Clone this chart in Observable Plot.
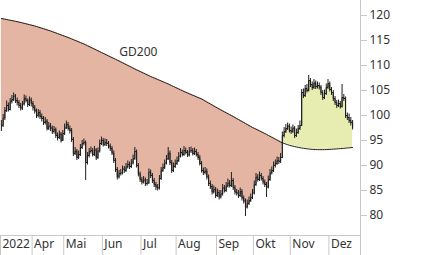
<!DOCTYPE html>
<html>
<head>
<meta charset="utf-8">
<script src="https://cdn.jsdelivr.net/npm/d3@7"></script>
<script src="https://cdn.jsdelivr.net/npm/@observablehq/plot@0.6"></script>
<style>
  html, body { margin: 0; padding: 0; background: #fff; }
  #chart { width: 426px; height: 255px; overflow: hidden; }
</style>
</head>
<body>
<div id="chart"></div>
<script>
// Daily closes (trading-day index 0 = start of the window, early March 2022)
const close = [
98.0, 99.5, 101.0, 102.0, 101.2, 102.8, 103.2, 103.9, 103.0, 102.6,
102.0, 101.5, 102.3, 103.4, 103.0, 102.2, 103.1, 102.4, 101.6, 100.9,
100.0, 100.6, 99.8, 99.4, 98.6, 98.9, 97.4, 97.9, 97.5, 96.8,
97.2, 96.0, 95.6, 96.3, 95.0, 96.4, 97.5, 98.2, 97.4, 97.0,
95.2, 92.4, 92.9, 91.6, 92.2, 93.6, 94.4, 94.6, 90.6, 92.0,
92.8, 93.0, 92.2, 93.1, 91.6, 92.9, 94.4, 95.0, 94.2, 94.6,
94.4, 93.9, 93.4, 92.5, 91.0, 89.2, 87.7, 88.4, 88.5, 89.3,
89.0, 89.7, 90.2, 89.8, 90.5, 91.4, 92.8, 90.0, 88.3, 87.2,
86.7, 87.1, 86.4, 86.5, 88.7, 88.0, 87.0, 86.2, 85.7, 85.5,
87.4, 89.0, 89.6, 90.5, 91.3, 92.5, 90.6, 89.0, 89.8, 90.4,
91.0, 91.9, 92.6, 92.2, 93.0, 92.6, 92.1, 92.9, 93.0, 92.4,
92.8, 92.2, 91.6, 90.4, 89.0, 88.6, 88.9, 87.7, 86.4, 85.8,
84.7, 85.2, 84.0, 84.6, 83.7, 84.3, 85.5, 85.0, 85.9, 86.5,
86.0, 87.0, 85.6, 84.7, 84.5, 84.0, 84.8, 83.5, 82.9, 81.7,
82.4, 83.0, 83.6, 84.5, 86.2, 87.7, 87.2, 88.0, 87.4, 86.7,
86.2, 85.7, 87.2, 88.5, 89.0, 90.0, 90.4, 91.0, 90.8, 91.6,
96.0, 96.8, 97.4, 97.9, 97.0, 96.8, 97.5, 96.0, 96.6, 97.4,
98.0, 104.6, 104.0, 105.4, 105.0, 107.0, 106.2, 105.6, 106.5, 105.8,
106.0, 105.7, 104.6, 103.6, 104.4, 105.6, 106.4, 105.2, 104.6, 103.4,
102.6, 102.0, 102.4, 101.8, 103.6, 103.4, 100.0, 99.6, 99.0, 98.6,
97.6];

const high = [
99.0, 100.2, 101.6, 102.9, 102.5, 103.4, 104.0, 104.5, 104.2, 103.5,
103.0, 102.4, 102.8, 104.1, 103.9, 103.3, 103.7, 103.5, 102.8, 102.0,
101.3, 101.2, 101.0, 100.3, 99.8, 99.6, 99.2, 98.6, 98.4, 97.9,
97.8, 97.5, 96.5, 96.9, 96.6, 97.0, 98.3, 98.9, 98.6, 97.9,
97.4, 95.6, 93.6, 93.2, 92.9, 94.2, 95.0, 95.3, 94.9, 92.6,
93.4, 93.7, 93.4, 93.8, 93.4, 93.5, 95.1, 95.7, 95.4, 95.3,
95.2, 94.8, 94.3, 93.8, 92.9, 91.4, 89.6, 89.0, 89.2, 89.9,
89.8, 90.4, 90.9, 90.7, 91.2, 92.1, 93.6, 93.1, 90.4, 88.7,
87.6, 87.8, 87.5, 87.2, 89.3, 89.1, 88.4, 87.4, 86.6, 86.2,
88.0, 89.6, 90.3, 91.1, 92.0, 93.6, 92.9, 91.0, 90.5, 91.1,
91.7, 92.6, 93.4, 93.1, 93.8, 93.5, 93.0, 93.6, 93.7, 93.4,
93.5, 93.2, 92.6, 92.0, 90.8, 89.5, 89.6, 89.3, 88.1, 86.9,
86.2, 85.9, 85.6, 85.3, 85.0, 85.0, 86.2, 86.0, 86.6, 87.3,
87.0, 88.6, 87.4, 86.0, 85.2, 85.0, 85.5, 85.2, 83.9, 83.3,
83.1, 83.7, 84.3, 85.2, 86.9, 88.4, 88.2, 88.7, 88.4, 87.8,
87.1, 86.6, 87.9, 89.2, 89.7, 90.7, 91.1, 91.7, 91.6, 92.4,
96.7, 97.6, 98.2, 98.5, 98.3, 97.7, 98.1, 97.8, 97.3, 98.0,
98.9, 105.2, 105.3, 106.0, 106.2, 108.0, 107.4, 106.7, 107.2, 106.9,
106.7, 106.5, 106.0, 105.0, 105.1, 106.3, 107.2, 106.7, 105.6, 105.0,
103.8, 103.0, 103.1, 102.8, 106.2, 104.2, 103.7, 100.5, 100.3, 99.6,
99.0];

const low = [
96.8, 97.6, 99.0, 100.6, 100.7, 100.9, 102.3, 102.8, 102.4, 101.9,
101.4, 100.9, 101.0, 101.9, 102.5, 101.6, 101.8, 101.7, 100.9, 100.3,
99.4, 99.5, 99.2, 98.7, 98.0, 98.1, 96.9, 97.0, 96.8, 96.2,
96.3, 95.4, 94.9, 95.2, 94.5, 94.8, 96.0, 97.2, 96.9, 96.3,
94.6, 91.8, 92.0, 91.0, 91.2, 91.8, 93.2, 93.9, 87.0, 90.1,
91.5, 92.3, 91.7, 91.8, 91.0, 91.2, 92.5, 94.0, 93.7, 93.8,
93.8, 93.3, 92.8, 92.0, 90.4, 88.6, 87.1, 87.3, 87.9, 88.1,
88.4, 88.6, 89.3, 89.2, 89.4, 90.1, 91.0, 89.5, 87.7, 86.6,
86.1, 86.3, 85.8, 85.9, 86.2, 87.4, 86.4, 85.6, 85.0, 84.9,
85.1, 87.0, 88.6, 89.2, 90.1, 91.0, 90.0, 88.4, 88.6, 89.4,
90.0, 90.6, 91.5, 91.7, 91.8, 92.1, 91.6, 91.7, 92.4, 91.9,
92.0, 91.7, 91.0, 89.9, 88.5, 88.0, 88.1, 87.1, 85.8, 85.2,
84.1, 84.3, 83.4, 83.6, 83.1, 83.3, 83.9, 84.5, 84.6, 85.5,
85.5, 85.6, 85.0, 84.1, 83.9, 83.4, 83.6, 82.9, 82.3, 79.8,
81.3, 82.0, 82.6, 83.2, 84.1, 85.8, 86.7, 86.8, 86.9, 86.1,
85.6, 83.6, 85.3, 86.8, 88.1, 88.6, 89.5, 90.0, 90.2, 90.4,
91.4, 95.5, 96.4, 97.0, 96.5, 96.2, 96.4, 95.4, 95.6, 96.2,
97.0, 97.8, 103.4, 103.6, 104.5, 104.7, 105.6, 105.0, 105.2, 105.2,
105.3, 105.1, 104.0, 103.0, 103.2, 104.0, 105.2, 104.7, 104.0, 102.8,
102.0, 101.4, 101.6, 101.3, 101.5, 102.8, 99.4, 99.0, 98.4, 97.9,
97.1];

// 200-day moving average (GD200)
const gd200 = [
119.40, 119.33, 119.26, 119.19, 119.12, 119.05, 118.98, 118.91, 118.84, 118.76,
118.68, 118.60, 118.51, 118.43, 118.34, 118.25, 118.16, 118.08, 117.99, 117.90,
117.79, 117.68, 117.57, 117.46, 117.35, 117.23, 117.12, 117.01, 116.90, 116.77,
116.64, 116.51, 116.38, 116.25, 116.12, 115.99, 115.86, 115.73, 115.60, 115.46,
115.31, 115.17, 115.02, 114.88, 114.73, 114.59, 114.44, 114.30, 114.13, 113.96,
113.79, 113.62, 113.45, 113.28, 113.11, 112.94, 112.77, 112.60, 112.43, 112.26,
112.09, 111.92, 111.75, 111.58, 111.41, 111.24, 111.07, 110.90, 110.72, 110.54,
110.37, 110.19, 110.01, 109.83, 109.66, 109.48, 109.30, 109.13, 108.97, 108.80,
108.63, 108.47, 108.30, 108.13, 107.97, 107.80, 107.65, 107.50, 107.35, 107.20,
107.05, 106.90, 106.75, 106.60, 106.45, 106.30, 106.13, 105.97, 105.80, 105.63,
105.47, 105.30, 105.13, 104.97, 104.80, 104.65, 104.50, 104.35, 104.20, 104.05,
103.90, 103.75, 103.60, 103.45, 103.30, 103.10, 102.90, 102.70, 102.50, 102.30,
102.10, 101.90, 101.70, 101.50, 101.30, 101.11, 100.92, 100.73, 100.54, 100.36,
100.17, 99.98, 99.80, 99.60, 99.40, 99.20, 99.00, 98.80, 98.60, 98.40,
98.20, 98.00, 97.80, 97.60, 97.43, 97.26, 97.09, 96.91, 96.74, 96.57,
96.40, 96.21, 96.02, 95.83, 95.64, 95.46, 95.27, 95.08, 94.89, 94.70,
94.55, 94.41, 94.28, 94.16, 94.05, 93.95, 93.86, 93.78, 93.70, 93.63,
93.56, 93.50, 93.44, 93.39, 93.34, 93.30, 93.26, 93.23, 93.20, 93.19,
93.18, 93.17, 93.17, 93.17, 93.18, 93.19, 93.20, 93.22, 93.25, 93.27,
93.30, 93.32, 93.35, 93.37, 93.40, 93.43, 93.47, 93.50, 93.53, 93.57,
93.60];

// Month labels and the trading-day index at which each month starts
const monthLabels = ["2022", "Apr", "Mai", "Jun", "Jul", "Aug", "Sep", "Okt", "Nov", "Dez"];
const monthStart  = [0, 18, 36, 58, 80, 100, 123, 144, 165, 187];
const yTicks = [80, 85, 90, 95, 100, 105, 110, 115, 120];
const gdLabel = [{ day: 78, value: 112.6, text: "GD200" }];

const xDomain = [-0.5, 204.5];
const yDomain = [76, 123];

const days = close.map((c, i) => ({ day: i, close: c, high: high[i], low: low[i], gd: gd200[i] }));
const months = monthLabels.map((m, k) => ({ label: m, start: monthStart[k] - 0.5 }));

const ink = "#1e1e1e";
const grid = "#c8c8c8";
const txt = "#333";

const chart = Plot.plot({
  width: 426,
  height: 255,
  marginLeft: 0,
  marginRight: 66,
  marginTop: 0,
  marginBottom: 20,
  x: { domain: xDomain, axis: null },
  y: { domain: yDomain, axis: null },
  style: { fontFamily: "'Noto Sans', 'Open Sans', sans-serif", fontSize: "12px", background: "#fff", color: txt },
  marks: [
    Plot.areaY(days, { x: "day", y1: "gd", y2: d => Math.min(d.close, d.gd), fill: "#e5b5a3", curve: "step-after" }),
    Plot.areaY(days, { x: "day", y1: "gd", y2: d => Math.max(d.close, d.gd), fill: "#e7edb1", curve: "step-after" }),
    Plot.lineY(days, { x: "day", y: "gd", stroke: ink, strokeWidth: 1 }),
    Plot.ruleX(days, { x: "day", y1: "low", y2: "high", stroke: ink, strokeWidth: 1 }),
    Plot.lineY(days, { x: "day", y: "close", stroke: ink, strokeWidth: 1, curve: "step-after" }),
    Plot.ruleY([yDomain[0]], { stroke: grid }),
    Plot.ruleX([xDomain[1]], { stroke: grid }),
    Plot.axisX({ ticks: [...months.map(m => m.start), xDomain[1]], tickSize: 20, tickFormat: () => "", stroke: grid }),
    Plot.text(months, { x: "start", text: "label", frameAnchor: "bottom", dy: 12, dx: 2, textAnchor: "start", fill: txt, fontSize: 12 }),
    Plot.axisY({ anchor: "right", ticks: yTicks, tickSize: 6, tickPadding: 3, stroke: grid, fill: txt, fontSize: 12, label: null }),
    Plot.text(gdLabel, { x: "day", y: "value", text: "text", fill: txt, fontSize: 12 })
  ]
});
document.getElementById("chart").appendChild(chart);
</script>
</body>
</html>
